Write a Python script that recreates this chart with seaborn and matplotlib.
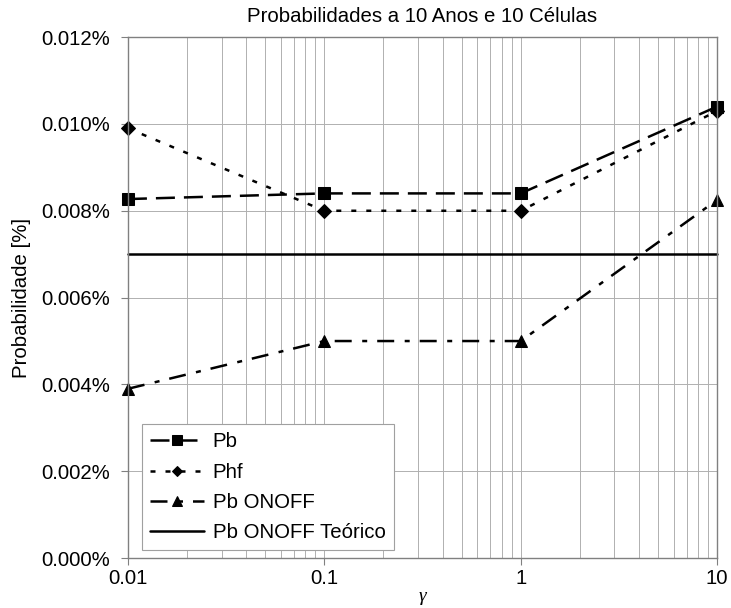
import matplotlib
matplotlib.use('Agg')
import matplotlib.pyplot as plt
import matplotlib.ticker as mticker
import seaborn as sns
import pandas as pd

# dados (probabilidade em %)
gamma = [0.01, 0.1, 1, 10]
pb = [0.00827, 0.0084, 0.0084, 0.0104]
phf = [0.0099, 0.0080, 0.0080, 0.0103]
pb_onoff = [0.0039, 0.0050, 0.0050, 0.00825]
pb_onoff_teorico = [0.0070, 0.0070, 0.0070, 0.0070]

series = [
    ('Pb', pb, 's', 9, (7.6, 3.6)),
    ('Phf', phf, 'D', 6.8, (2, 4)),
    ('Pb ONOFF', pb_onoff, '^', 9, (6.8, 4.2, 2, 4)),
    ('Pb ONOFF Teórico', pb_onoff_teorico, None, 0, None),
]

sns.set_style('ticks')
plt.rcParams['font.family'] = ['Liberation Sans', 'DejaVu Sans']
for k in ['text.color', 'axes.labelcolor', 'xtick.labelcolor', 'ytick.labelcolor']:
    plt.rcParams[k] = 'black'
fs = 14.7

fig = plt.figure(figsize=(7.31, 6.08), dpi=100)
ax = fig.add_axes([0.175, 0.082, 0.806, 0.857])

for name, vals, mk, ms, dash in series:
    df = pd.DataFrame({'gamma': gamma, 'p': vals})
    kw = dict(marker=mk, markersize=ms, markeredgecolor='black') if mk else {}
    line = sns.lineplot(data=df, x='gamma', y='p', ax=ax, color='black',
                        linewidth=1.8, label=name, clip_on=False, **kw).lines[-1]
    if dash:
        line.set_dashes(dash)

ax.set_xscale('log')
ax.set_xlim(0.01, 10)
ax.set_ylim(0, 0.012)
ax.set_xticks([0.01, 0.1, 1, 10])
ax.xaxis.set_major_formatter(mticker.FuncFormatter(lambda v, p: f'{v:g}'))
ax.xaxis.set_minor_formatter(mticker.NullFormatter())
ax.set_yticks([0, 0.002, 0.004, 0.006, 0.008, 0.010, 0.012])
ax.yaxis.set_major_formatter(mticker.FuncFormatter(lambda v, p: f'{v:.3f}%'))

ax.grid(True, which='major', color='#b0b0b0', linewidth=0.7)
ax.grid(True, which='minor', axis='x', color='#b0b0b0', linewidth=0.7)
ax.tick_params(axis='both', which='major', labelsize=fs, length=5, color='#808080')
ax.tick_params(axis='both', which='minor', length=0)
ax.tick_params(axis='x', pad=3)
ax.tick_params(axis='y', pad=8)
for s in ax.spines.values():
    s.set_color('#808080')
    s.set_linewidth(1.0)

ax.set_title('Probabilidades a 10 Anos e 10 Células', fontsize=fs, pad=11)
ax.set_xlabel('γ', fontsize=14, family='Liberation Serif', style='italic', labelpad=0)
ax.set_ylabel('Probabilidade [%]', fontsize=fs, labelpad=7)

leg = ax.legend(loc='lower left', bbox_to_anchor=(0.024, 0.015), fontsize=fs,
                frameon=True, fancybox=False, edgecolor='#a0a0a0', framealpha=1,
                handlelength=2.65, borderaxespad=0, labelspacing=0.55,
                handletextpad=0.4, markerscale=0.8, borderpad=0.4)
leg.get_frame().set_linewidth(0.8)

fig.savefig('out.png', dpi=100)
